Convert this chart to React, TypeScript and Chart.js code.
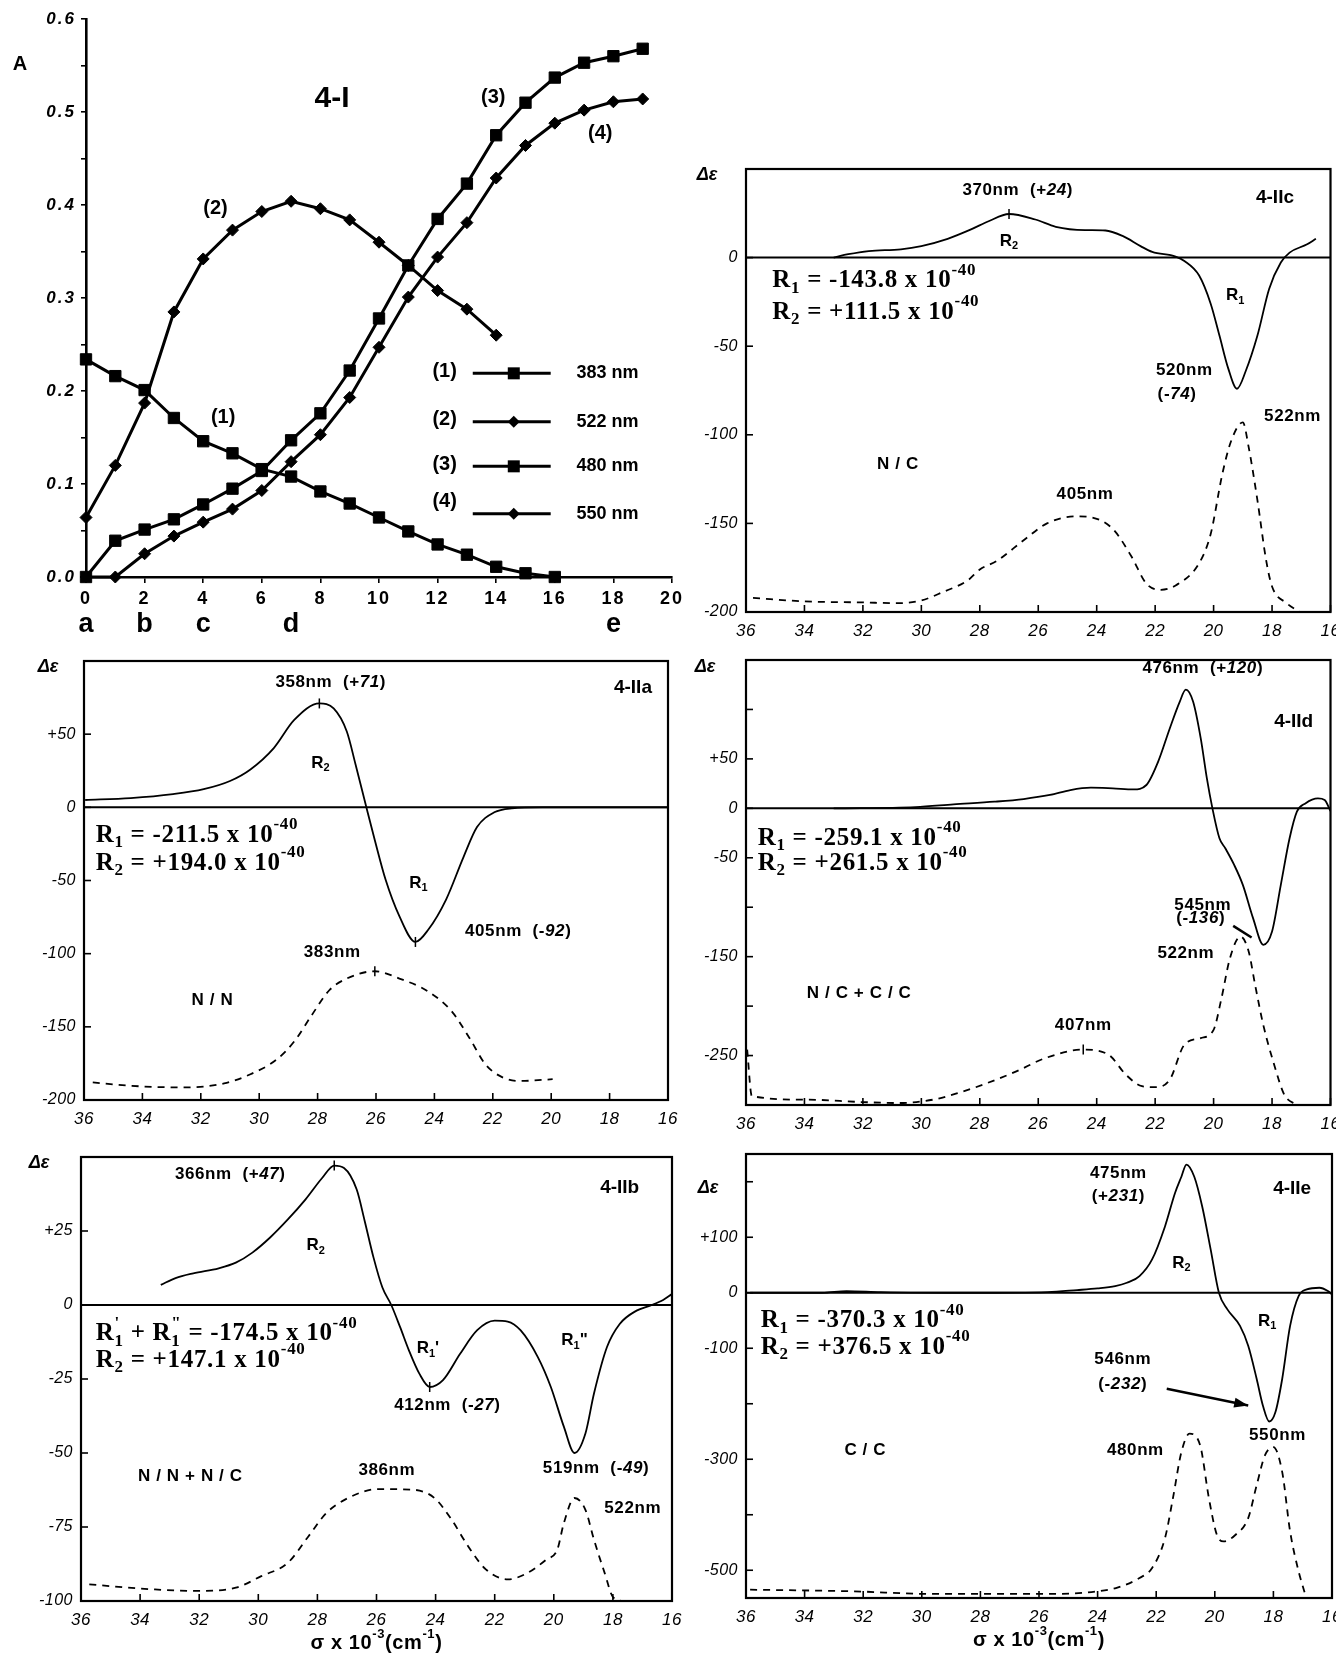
import React, { useEffect, useRef } from 'react';
import { Chart, registerables } from 'chart.js';

Chart.register(...registerables);

/* ================= Panel 4-I : absorbance during titration ================= */
const titrationSteps = [0, 1, 2, 3, 4, 5, 6, 7, 8, 9, 10, 11, 12, 13, 14, 15, 16, 17, 18, 19];
const abs383nm = [0.234, 0.216, 0.201, 0.171, 0.146, 0.133, 0.116, 0.108, 0.092, 0.079, 0.064, 0.049, 0.035, 0.024, 0.011, 0.004, 0.0];
const abs522nm = [0.064, 0.12, 0.187, 0.285, 0.342, 0.373, 0.393, 0.404, 0.396, 0.384, 0.36, 0.335, 0.308, 0.288, 0.26];
const abs480nm = [0.0, 0.039, 0.051, 0.062, 0.078, 0.095, 0.114, 0.147, 0.176, 0.222, 0.278, 0.335, 0.385, 0.423, 0.475, 0.51, 0.537, 0.553, 0.56, 0.568];
const abs550nm = [0.0, 0.0, 0.025, 0.044, 0.059, 0.073, 0.093, 0.124, 0.153, 0.193, 0.247, 0.301, 0.344, 0.381, 0.429, 0.464, 0.488, 0.502, 0.511, 0.514];
const stepTicks = [0, 2, 4, 6, 8, 10, 12, 14, 16, 18, 20];
const absTicks = [0, 0.05, 0.1, 0.15, 0.2, 0.25, 0.3, 0.35, 0.4, 0.45, 0.5, 0.55, 0.6];
const absTickLabels = ['0.0', '', '0.1', '', '0.2', '', '0.3', '', '0.4', '', '0.5', '', '0.6'];
const stepLetters = ['a', 'b', 'c', 'd', 'e'];
const stepLetterAt = [0, 2, 4, 7, 18];
const legendCodes = ['(1)', '(2)', '(3)', '(4)'];
const legendWavelengths = ['383 nm', '522 nm', '480 nm', '550 nm'];

/* ================= CD panels : sigma x 10^-3 (cm-1) ================= */
const sigmaTicks = [16, 18, 20, 22, 24, 26, 28, 30, 32, 34, 36];

// 4-IIc
const cdIIcSigma = [33.0, 32.5, 31.8, 30.7, 30.0, 29.1, 28.3, 27.7, 27.0, 26.1, 25.4, 24.4, 23.7, 23.1, 22.5, 22.1, 21.3, 21.0, 20.5, 20.1, 19.8, 19.5, 19.2, 18.9, 18.5, 18.1, 17.7, 17.4, 16.8, 16.5];
const cdIIcDe = [0, 1.9, 3.7, 4.7, 6.5, 10.6, 15.9, 20.5, 24.6, 21.5, 17.4, 15.5, 15.3, 12.1, 6.5, 3.2, 0.6, -1.9, -10, -26, -44, -62.5, -74, -64, -44, -17.7, -2.8, 2.8, 7.5, 10.6];
const absIIcSigma = [35.76, 34.0, 32.0, 30.8, 30.0, 29.3, 28.4, 28.0, 27.4, 26.5, 25.7, 24.7, 23.9, 23.4, 22.8, 22.3, 21.8, 21.3, 20.5, 20.1, 19.7, 19.4, 19.0, 18.8, 18.5, 18.2, 18.0, 17.5, 17.0];
const absIIcDe = [-192, -194, -194.6, -195, -193.5, -189, -182, -176, -171, -159.5, -150, -146, -148, -154, -169, -184, -187.5, -185, -172.6, -156, -122, -103.5, -93, -107, -137, -171, -185.6, -195, -200.5];
const yTicksIIc = [-200, -150, -100, -50, 0];
const yLabelsIIc = ['-200', '-150', '-100', '-50', '0'];
const peaksIIc = [[27.0, 24.6]];

// 4-IIa
const cdIIaSigma = [35.96, 34.4, 32.95, 31.9, 31.0, 30.3, 29.5, 28.8, 27.94, 27.45, 27.0, 26.7, 26.33, 26.04, 25.67, 25.2, 24.65, 24.2, 23.6, 23.0, 22.54, 21.95, 21.35, 20.3, 16.0];
const cdIIaDe = [5, 6.3, 9, 12.4, 18, 25.9, 40.5, 59.7, 71, 67.6, 51.8, 29.3, 0, -22.5, -49.5, -74.3, -92, -83.3, -63, -33.8, -13.5, -3.4, -0.7, 0, 0];
const absIIaSigma = [35.7, 34.4, 32.65, 31.2, 30.3, 29.4, 28.8, 28.2, 27.6, 27.0, 26.04, 25.2, 24.2, 23.4, 22.8, 22.25, 21.65, 21.06, 19.95];
const absIIaDe = [-188, -190.3, -191.4, -188.7, -182.4, -172.3, -160, -142, -125, -117, -112, -117, -126, -139.6, -157.6, -175.7, -184.7, -187, -185.8];
const yTicksIIa = [-200, -150, -100, -50, 0, 50];
const yLabelsIIa = ['-200', '-150', '-100', '-50', '0', '+50'];
const peaksIIa = [[27.94, 71], [24.65, -92], [26.04, -112]];

// 4-IId
const cdIIdSigma = [33.0, 30.2, 28.9, 27.5, 26.5, 25.6, 24.9, 24.2, 23.45, 22.74, 22.3, 21.9, 21.5, 21.16, 20.95, 20.7, 20.44, 20.23, 20.04, 19.8, 19.6, 19.3, 19.0, 18.65, 18.3, 18.0, 17.7, 17.4, 17.15, 16.86, 16.43, 16.2, 16.0];
const cdIIdDe = [0, 1.3, 4, 6.7, 9.4, 13.5, 18.5, 20.9, 20.2, 19.2, 23.6, 47, 80.8, 107.7, 120, 107.7, 70.7, 30.3, 0, -30.3, -40.4, -57, -77.4, -111, -138, -124.6, -77.4, -30.3, -3.4, 5, 10, 8.4, -2.7];
const absIIdSigma = [35.96, 35.8, 33.9, 32.06, 30.77, 29.6, 28.76, 27.9, 26.75, 25.75, 24.46, 23.6, 23.0, 22.45, 22.0, 21.5, 21.0, 20.44, 20.0, 19.73, 19.44, 19.08, 18.8, 18.58, 18.3, 17.93, 17.58, 17.15];
const absIIdDe = [-244, -291, -294.6, -297, -298, -294.6, -288, -279.5, -266, -252.5, -244, -249, -269.4, -281, -282, -274.4, -239, -232.3, -224, -192, -151.5, -129.6, -144.8, -178.5, -219, -259, -289.6, -300];
const yTicksIId = [-250, -200, -150, -100, -50, 0, 50, 100];
const yLabelsIId = ['-250', '', '-150', '', '-50', '0', '+50', ''];
const peaksIId = [[24.46, -244]];

// 4-IIb
const cdIIbSigma = [33.3, 32.8, 32.2, 31.34, 30.76, 30.2, 29.6, 29.0, 28.4, 27.84, 27.43, 27.1, 26.67, 26.4, 26.1, 25.8, 25.5, 25.2, 24.9, 24.55, 24.2, 23.75, 23.17, 22.6, 22.0, 21.56, 21.12, 20.54, 20.1, 19.66, 19.3, 18.93, 18.64, 18.2, 17.77, 17.2, 16.74, 16.3, 16.0];
const cdIIbDe = [6.8, 9.1, 10.7, 12.4, 14.3, 17.7, 22.8, 28.9, 35.7, 42.9, 47.1, 46.3, 39, 28.4, 16, 5.9, 0, -7.5, -15.4, -23.2, -27.7, -25.4, -16.5, -8.6, -5.3, -5.6, -8.6, -17.6, -27.7, -41.1, -50, -43.4, -29.9, -14.2, -6.4, -1.9, -0.2, 1.7, 3.7];
const absIIbSigma = [35.72, 33.5, 32.07, 30.76, 29.9, 29.0, 28.3, 27.7, 26.96, 25.94, 24.77, 24.04, 23.46, 22.9, 22.3, 21.56, 20.98, 20.25, 19.88, 19.66, 19.3, 18.93, 18.64, 18.28, 17.98, 17.6, 17.2];
const absIIbDe = [-94.4, -96.1, -96.6, -95.5, -91.6, -87.1, -78.1, -70.3, -65.2, -62.2, -62.4, -65.2, -72.5, -81.5, -89.3, -92.7, -91, -86, -82.6, -73.7, -65.2, -69.2, -79.3, -90.5, -98.9, -100, -100.5];
const yTicksIIb = [-100, -75, -50, -25, 0, 25];
const yLabelsIIb = ['-100', '-75', '-50', '-25', '0', '+25'];
const peaksIIb = [[27.43, 47.1], [24.2, -27.7]];

// 4-IIe
const cdIIeSigma = [35.86, 33.4, 32.57, 31.4, 28.3, 25.7, 24.7, 24.0, 23.4, 23.0, 22.57, 22.14, 21.7, 21.36, 21.14, 20.97, 20.7, 20.43, 20.14, 19.86, 19.57, 19.14, 18.86, 18.57, 18.36, 18.14, 17.93, 17.7, 17.43, 17.14, 16.86, 16.43, 16.14, 16.0];
const cdIIeDe = [0, 0, 3, 1.2, 0, 1.2, 4.8, 7.8, 12, 18, 30, 60, 119.5, 179.3, 209, 231, 209, 155.4, 77.7, 0, -30, -59.8, -95.6, -155.4, -203, -232, -215, -155.4, -59.8, -6, 6, 9, 3, -3];
const absIIeSigma = [35.86, 32.3, 29.7, 25.4, 24.0, 23.3, 22.57, 22.14, 21.7, 21.43, 21.14, 20.86, 20.5, 20.2, 19.93, 19.7, 19.29, 18.86, 18.57, 18.29, 18.0, 17.7, 17.43, 17.14, 16.93];
const absIIeDe = [-535, -538, -542.7, -542.7, -538, -530.8, -514, -496, -442, -370.6, -287, -254, -275, -370.6, -436, -448, -436, -406, -346.5, -293, -278, -322.8, -430, -502, -541];
const yTicksIIe = [-500, -400, -300, -200, -100, 0, 100, 200];
const yLabelsIIe = ['-500', '', '-300', '', '-100', '0', '+100', ''];
const peaksIIe: number[][] = [];

/* ================= helpers ================= */
const SANS = '"Liberation Sans", Arial, Helvetica, sans-serif';
const SERIF = '"Liberation Serif", "Times New Roman", serif';

type Seg = { t: string; k?: 'i' | 'sup' | 'sub' | 'ss'; t2?: string };
type Note = {
  segs: Seg[]; x?: number; y?: number; dx?: number; dy?: number; size: number;
  bold?: boolean; serif?: boolean; italic?: boolean; align?: 'left' | 'center' | 'right'; spacing?: number;
};
const S = (t: string): Seg => ({ t });
const I = (t: string): Seg => ({ t, k: 'i' });
const SUP = (t: string): Seg => ({ t, k: 'sup' });
const SUB = (t: string): Seg => ({ t, k: 'sub' });
const SS = (t: string, t2: string): Seg => ({ t, t2, k: 'ss' });

const lab = (x: number, y: number, segs: Seg[], extra: Partial<Note> = {}): Note => ({ x, y, segs, size: 17, bold: true, spacing: 0.6, align: 'center', ...extra });
const pid = (x: number, y: number, t: string): Note => ({ x, y, segs: [S(t)], size: 19, bold: true, align: 'center', spacing: 0 });
const eqn = (x: number, y: number, segs: Seg[]): Note => ({ x, y, segs, size: 25, serif: true, bold: true, align: 'left', spacing: 0.7 });
const eqR = (n: string, v: string): Seg[] => [S('R'), SUB(n), S(' = ' + v + ' x 10'), SUP('-40')];
const rLab = (x: number, y: number, n: string, tail = ''): Note => lab(x, y, tail ? [S('R'), SUB(n), S(tail)] : [S('R'), SUB(n)], { spacing: 0 });

function drawRich(ctx: any, n: Note, px: number, py: number) {
  const fam = n.serif ? SERIF : SANS;
  const wt = n.bold ? 'bold ' : '';
  const small = Math.round(n.size * 0.66);
  const f = (it: boolean, sz: number) => `${it ? 'italic ' : ''}${wt}${sz}px ${fam}`;
  ctx.save();
  ctx.letterSpacing = `${n.spacing ?? 0}px`;
  ctx.fillStyle = '#000';
  ctx.textBaseline = 'middle';
  ctx.textAlign = 'left';
  const ws = n.segs.map((s) => {
    if (s.k === 'sup' || s.k === 'sub') { ctx.font = f(false, small); return ctx.measureText(s.t).width; }
    if (s.k === 'ss') { ctx.font = f(false, small); return Math.max(ctx.measureText(s.t).width, ctx.measureText(s.t2 || '').width); }
    ctx.font = f(!!n.italic || s.k === 'i', n.size);
    return ctx.measureText(s.t).width;
  });
  const total = ws.reduce((a: number, b: number) => a + b, 0);
  let cx = n.align === 'left' ? px : n.align === 'right' ? px - total : px - total / 2;
  n.segs.forEach((s, i) => {
    if (s.k === 'sup') { ctx.font = f(false, small); ctx.fillText(s.t, cx, py - n.size * 0.42); }
    else if (s.k === 'sub') { ctx.font = f(false, small); ctx.fillText(s.t, cx, py + n.size * 0.3); }
    else if (s.k === 'ss') {
      ctx.font = f(false, small);
      ctx.fillText(s.t, cx, py - n.size * 0.42);
      ctx.fillText(s.t2 || '', cx, py + n.size * 0.3);
    } else { ctx.font = f(!!n.italic || s.k === 'i', n.size); ctx.fillText(s.t, cx, py); }
    cx += ws[i];
  });
  ctx.restore();
}

type Seg2 = { x1: number; y1: number; x2: number; y2: number; arrow?: boolean; w?: number };
type LegendRow = { code: string; text: string; y: number; codeY: number; style: 'rect' | 'diamond' };
type Deco = {
  notes: Note[]; box?: boolean; zero?: boolean; inTicks?: boolean; lines?: Seg2[];
  xTitle?: boolean; tickSpacing?: number; legend?: LegendRow[];
};

function drawMarker(ctx: any, style: string, x: number, y: number) {
  ctx.beginPath();
  if (style === 'rect') ctx.rect(x - 6, y - 6, 12, 12);
  else { ctx.moveTo(x, y - 6); ctx.lineTo(x + 6, y); ctx.lineTo(x, y + 6); ctx.lineTo(x - 6, y); ctx.closePath(); }
  ctx.fill();
}

function decoPlugin(d: Deco) {
  return {
    id: 'deco',
    beforeDraw(chart: any) {
      chart.ctx.letterSpacing = `${d.tickSpacing ?? 0}px`;
    },
    afterDraw(chart: any) {
      const { ctx, chartArea: a, scales } = chart;
      const xs = scales.x;
      const ys = scales.y;
      ctx.save();
      ctx.strokeStyle = '#000';
      ctx.fillStyle = '#000';
      const seg = (x1: number, y1: number, x2: number, y2: number) => { ctx.beginPath(); ctx.moveTo(x1, y1); ctx.lineTo(x2, y2); ctx.stroke(); };
      if (d.zero) { ctx.lineWidth = 2; const y0 = ys.getPixelForValue(0); seg(a.left, y0, a.right, y0); }
      if (d.box) { ctx.lineWidth = 2.2; ctx.strokeRect(a.left, a.top, a.right - a.left, a.bottom - a.top); }
      if (d.inTicks) {
        ctx.lineWidth = 1.6;
        xs.ticks.forEach((t: any) => { const x = xs.getPixelForValue(t.value); seg(x, a.bottom, x, a.bottom - 7); });
        ys.ticks.forEach((t: any) => { const y = ys.getPixelForValue(t.value); seg(a.left, y, a.left + 7, y); });
      }
      (d.lines || []).forEach((l) => {
        const x1 = xs.getPixelForValue(l.x1), y1 = ys.getPixelForValue(l.y1);
        const x2 = xs.getPixelForValue(l.x2), y2 = ys.getPixelForValue(l.y2);
        ctx.lineWidth = l.w ?? 2.5;
        seg(x1, y1, x2, y2);
        if (l.arrow) {
          const ang = Math.atan2(y2 - y1, x2 - x1), L = 14, W = 5;
          ctx.beginPath();
          ctx.moveTo(x2, y2);
          ctx.lineTo(x2 - L * Math.cos(ang) + W * Math.sin(ang), y2 - L * Math.sin(ang) - W * Math.cos(ang));
          ctx.lineTo(x2 - L * Math.cos(ang) - W * Math.sin(ang), y2 - L * Math.sin(ang) + W * Math.cos(ang));
          ctx.closePath();
          ctx.fill();
        }
      });
      (d.legend || []).forEach((r) => {
        const y = ys.getPixelForValue(r.y);
        ctx.lineWidth = 3;
        seg(xs.getPixelForValue(13.2), y, xs.getPixelForValue(15.86), y);
        drawMarker(ctx, r.style, xs.getPixelForValue(14.6), y);
        drawRich(ctx, { segs: [S(r.code)], size: 20, bold: true, align: 'center' }, xs.getPixelForValue(12.24), ys.getPixelForValue(r.codeY));
        drawRich(ctx, { segs: [S(r.text)], size: 18, bold: true, align: 'left' }, xs.getPixelForValue(16.74), y);
      });
      d.notes.forEach((n) => {
        const px = n.x !== undefined ? xs.getPixelForValue(n.x) : a.left + (n.dx || 0);
        const py = n.y !== undefined ? ys.getPixelForValue(n.y) : a.top + (n.dy || 0);
        drawRich(ctx, n, px, py);
      });
      if (d.xTitle) {
        drawRich(ctx, { segs: [S('σ x 10'), SUP('-3'), S('(cm'), SUP('-1'), S(')')], size: 20, bold: true, spacing: 0.6, align: 'center' }, (a.left + a.right) / 2, a.bottom + 42);
      }
      ctx.restore();
      ctx.letterSpacing = '0px';
    },
  };
}

const toXY = (xs: number[], ys: number[]) => ys.map((y, i) => ({ x: xs[i], y }));

type Rect = { L: number; R: number; T: number; B: number };
type Pad = { l: number; r: number; t: number; b: number };

function ChartCanvas({ rect, pad, make }: { rect: Rect; pad: Pad; make: () => any }) {
  const ref = useRef<HTMLCanvasElement | null>(null);
  const w = rect.R - rect.L + pad.l + pad.r;
  const h = rect.B - rect.T + pad.t + pad.b;
  useEffect(() => {
    if (!ref.current) return;
    const chart = new Chart(ref.current, make());
    return () => chart.destroy();
  }, []);
  return (
    <canvas
      ref={ref}
      width={w}
      height={h}
      style={{ position: 'absolute', left: rect.L - pad.l, top: rect.T - pad.t, width: w, height: h }}
    />
  );
}

const fixX = (h: number) => (s: any) => { s.height = h; s.paddingLeft = 0; s.paddingRight = 0; s.paddingTop = 0; s.paddingBottom = 0; };
const fixY = (w: number) => (s: any) => { s.width = w; s.paddingLeft = 0; s.paddingRight = 0; s.paddingTop = 0; s.paddingBottom = 0; };

/* ================= Panel 4-I ================= */
const rectI: Rect = { L: 86, R: 672, T: 19, B: 577 };
const padI: Pad = { l: 86, r: 12, t: 19, b: 68 };

function makePanelI() {
  const line = (ys: number[], style: string, r: number) => ({
    data: toXY(titrationSteps, ys),
    borderColor: '#000', backgroundColor: '#000', borderWidth: 3,
    pointStyle: style, pointRadius: r, pointBackgroundColor: '#000', pointBorderColor: '#000', pointBorderWidth: 1,
    tension: 0, clip: false,
  });
  const notes: Note[] = [
    { x: 8.4, y: 0.514, segs: [S('4-I')], size: 30, bold: true, align: 'center' },
    { x: 13.9, y: 0.516, segs: [S('(3)')], size: 20, bold: true, align: 'center' },
    { x: 17.55, y: 0.477, segs: [S('(4)')], size: 20, bold: true, align: 'center' },
    { x: 4.42, y: 0.396, segs: [S('(2)')], size: 20, bold: true, align: 'center' },
    { x: 4.68, y: 0.171, segs: [S('(1)')], size: 20, bold: true, align: 'center' },
    { dx: -66, dy: 45, segs: [S('A')], size: 20, bold: true, align: 'center' },
    ...stepLetters.map((t, i) => ({ x: stepLetterAt[i], dy: 606, segs: [S(t)], size: 27, bold: true, align: 'center' as const })),
  ];
  const legend: LegendRow[] = [
    { code: legendCodes[0], text: legendWavelengths[0], y: 0.219, codeY: 0.221, style: 'rect' },
    { code: legendCodes[1], text: legendWavelengths[1], y: 0.167, codeY: 0.169, style: 'diamond' },
    { code: legendCodes[2], text: legendWavelengths[2], y: 0.119, codeY: 0.121, style: 'rect' },
    { code: legendCodes[3], text: legendWavelengths[3], y: 0.068, codeY: 0.081, style: 'diamond' },
  ];
  return {
    type: 'line',
    data: {
      datasets: [
        line(abs383nm, 'rect', 8),
        line(abs522nm, 'rectRot', 6),
        line(abs480nm, 'rect', 8),
        line(abs550nm, 'rectRot', 6),
      ],
    },
    options: {
      responsive: false, animation: false, devicePixelRatio: 1,
      layout: { padding: { left: 0, top: padI.t, right: padI.r, bottom: 0 } },
      plugins: { legend: { display: false }, tooltip: { enabled: false }, title: { display: false } },
      scales: {
        x: {
          type: 'linear', min: 0, max: 20,
          afterBuildTicks: (s: any) => { s.ticks = stepTicks.map((v) => ({ value: v })); },
          afterFit: fixX(padI.b),
          grid: { drawOnChartArea: false, drawTicks: true, tickLength: 6, color: '#000', lineWidth: 1.6 },
          border: { display: true, color: '#000', width: 2.6 },
          ticks: { color: '#000', font: { family: SANS, size: 18, weight: 'bold' }, padding: 5, maxRotation: 0, autoSkip: false, callback: (v: any) => String(v) },
        },
        y: {
          type: 'linear', min: 0, max: 0.6,
          afterBuildTicks: (s: any) => { s.ticks = absTicks.map((v) => ({ value: v })); },
          afterFit: fixY(padI.l),
          grid: { drawOnChartArea: false, drawTicks: true, tickLength: 5, color: '#000', lineWidth: 1.6 },
          border: { display: true, color: '#000', width: 2.6 },
          ticks: { color: '#000', font: { family: SANS, size: 17, weight: 'bold', style: 'italic' }, padding: 5, autoSkip: false, callback: (_v: any, i: number) => absTickLabels[i] },
        },
      },
    },
    plugins: [decoPlugin({ notes, legend, tickSpacing: 2 })],
  };
}

/* ================= CD panels ================= */
type Spec = {
  rect: Rect; pad: Pad; yMin: number; yMax: number; yTicks: number[]; yLabels: string[];
  cdS: number[]; cdV: number[]; absS: number[]; absV: number[]; peaks: number[][];
  notes: Note[]; lines?: Seg2[]; delta: { dx: number; dy: number }; xTitle?: boolean;
};

function makeSpectrum(p: Spec) {
  const notes: Note[] = [...p.notes, { dx: p.delta.dx, dy: p.delta.dy, segs: [S('Δε')], size: 18, italic: true, bold: true, align: 'center' }];
  return {
    type: 'line',
    data: {
      datasets: [
        { data: toXY(p.cdS, p.cdV), borderColor: '#000', borderWidth: 1.8, pointRadius: 0, cubicInterpolationMode: 'monotone', fill: false },
        { data: toXY(p.absS, p.absV), borderColor: '#000', borderWidth: 1.8, borderDash: [7, 6], pointRadius: 0, cubicInterpolationMode: 'monotone', fill: false },
        { data: p.peaks.map((q) => ({ x: q[0], y: q[1] })), showLine: false, pointStyle: 'line', pointRotation: 90, pointRadius: 5, borderColor: '#000', pointBorderColor: '#000', pointBorderWidth: 1.5 },
      ],
    },
    options: {
      responsive: false, animation: false, devicePixelRatio: 1,
      layout: { padding: { left: 0, top: p.pad.t, right: p.pad.r, bottom: 0 } },
      plugins: { legend: { display: false }, tooltip: { enabled: false }, title: { display: false } },
      scales: {
        x: {
          type: 'linear', reverse: true, min: 16, max: 36,
          afterBuildTicks: (s: any) => { s.ticks = sigmaTicks.map((v) => ({ value: v })); },
          afterFit: fixX(p.pad.b),
          grid: { display: false, drawTicks: false },
          border: { display: false },
          ticks: { color: '#000', font: { family: SANS, size: 17, style: 'italic' }, padding: 9, maxRotation: 0, autoSkip: false, callback: (v: any) => String(v) },
        },
        y: {
          type: 'linear', min: p.yMin, max: p.yMax,
          afterBuildTicks: (s: any) => { s.ticks = p.yTicks.map((v) => ({ value: v })); },
          afterFit: fixY(p.pad.l),
          grid: { display: false, drawTicks: false },
          border: { display: false },
          ticks: { color: '#000', font: { family: SANS, size: 16, style: 'italic' }, padding: 8, autoSkip: false, callback: (_v: any, i: number) => p.yLabels[i] },
        },
      },
    },
    plugins: [decoPlugin({ notes, box: true, zero: true, inTicks: true, lines: p.lines, xTitle: p.xTitle, tickSpacing: 0.5 })],
  };
}

const padTopR: Pad = { l: 62, r: 6, t: 12, b: 40 };
const padBottomR: Pad = { l: 62, r: 6, t: 12, b: 62 };
const padTopL: Pad = { l: 62, r: 16, t: 12, b: 40 };
const padBottomL: Pad = { l: 62, r: 16, t: 12, b: 62 };

const specIIc: Spec = {
  rect: { L: 746, R: 1331, T: 169, B: 612 }, pad: padTopR, yMin: -200, yMax: 50,
  yTicks: yTicksIIc, yLabels: yLabelsIIc, cdS: cdIIcSigma, cdV: cdIIcDe, absS: absIIcSigma, absV: absIIcDe, peaks: peaksIIc,
  delta: { dx: -39, dy: 6 },
  notes: [
    lab(26.7, 38, [S('370nm  (+'), I('24'), S(')')]),
    pid(17.9, 33.6, '4-IIc'),
    rLab(27.0, 9.3, '2'),
    eqn(35.1, -13, eqR('1', '-143.8')),
    eqn(35.1, -30.8, eqR('2', '+111.5')),
    rLab(19.26, -21.5, '1'),
    lab(21.0, -63.4, [S('520nm')]),
    lab(21.25, -77, [S('(-'), I('74'), S(')')]),
    lab(17.3, -89.5, [S('522nm')]),
    lab(30.8, -116.6, [S('N / C')]),
    lab(24.4, -133.4, [S('405nm')]),
  ],
};

const specIIa: Spec = {
  rect: { L: 84, R: 668, T: 661, B: 1100 }, pad: padTopL, yMin: -200, yMax: 100,
  yTicks: yTicksIIa, yLabels: yLabelsIIa, cdS: cdIIaSigma, cdV: cdIIaDe, absS: absIIaSigma, absV: absIIaDe, peaks: peaksIIa,
  delta: { dx: -36, dy: 6 },
  notes: [
    lab(27.55, 85.6, [S('358nm  (+'), I('71'), S(')')]),
    pid(17.2, 82, '4-IIa'),
    rLab(27.9, 30.4, '2'),
    eqn(35.6, -19, eqR('1', '-211.5')),
    eqn(35.6, -38.3, eqR('2', '+194.0')),
    rLab(24.55, -51.8, '1'),
    lab(21.13, -84.5, [S('405nm  (-'), I('92'), S(')')]),
    lab(27.5, -99, [S('383nm')]),
    lab(31.6, -131.8, [S('N / N')]),
  ],
};

const specIId: Spec = {
  rect: { L: 746, R: 1331, T: 660, B: 1105 }, pad: padTopR, yMin: -300, yMax: 150,
  yTicks: yTicksIId, yLabels: yLabelsIId, cdS: cdIIdSigma, cdV: cdIIdDe, absS: absIIdSigma, absV: absIIdDe, peaks: peaksIId,
  delta: { dx: -41, dy: 7 },
  lines: [{ x1: 19.33, y1: -118.9, x2: 18.7, y2: -130.6, w: 2.5 }],
  notes: [
    lab(20.37, 141.4, [S('476nm  (+'), I('120'), S(')')]),
    pid(17.26, 87.5, '4-IId'),
    eqn(35.6, -30.3, eqR('1', '-259.1')),
    eqn(35.6, -55.6, eqR('2', '+261.5')),
    lab(20.37, -97.6, [S('545nm')]),
    lab(20.44, -111, [S('(-'), I('136'), S(')')]),
    lab(20.95, -146.5, [S('522nm')]),
    lab(32.13, -187, [S('N / C + C / C')]),
    lab(24.46, -219, [S('407nm')]),
  ],
};

const specIIb: Spec = {
  rect: { L: 81, R: 672, T: 1157, B: 1601 }, pad: padBottomL, yMin: -100, yMax: 50,
  yTicks: yTicksIIb, yLabels: yLabelsIIb, cdS: cdIIbSigma, cdV: cdIIbDe, absS: absIIbSigma, absV: absIIbDe, peaks: peaksIIb,
  delta: { dx: -42, dy: 6 }, xTitle: true,
  notes: [
    lab(30.95, 44, [S('366nm  (+'), I('47'), S(')')]),
    pid(17.77, 39.6, '4-IIb'),
    rLab(28.06, 20, '2'),
    eqn(35.5, -9.75, [S('R'), SS("'", '1'), S(' + R'), SS('"', '1'), S(' = -174.5 x 10'), SUP('-40')]),
    eqn(35.5, -18.7, eqR('2', '+147.1')),
    rLab(24.26, -14.8, '1', "'"),
    rLab(19.3, -12, '1', '"'),
    lab(23.6, -33.9, [S('412nm  (-'), I('27'), S(')')]),
    lab(18.57, -55.2, [S('519nm  (-'), I('49'), S(')')]),
    lab(32.3, -58, [S('N / N + N / C')]),
    lab(25.65, -55.7, [S('386nm')]),
    lab(17.33, -68.6, [S('522nm')]),
  ],
};

const specIIe: Spec = {
  rect: { L: 746, R: 1332, T: 1154, B: 1598 }, pad: padBottomR, yMin: -550, yMax: 250,
  yTicks: yTicksIIe, yLabels: yLabelsIIe, cdS: cdIIeSigma, cdV: cdIIeDe, absS: absIIeSigma, absV: absIIeDe, peaks: peaksIIe,
  delta: { dx: -38, dy: 34 }, xTitle: true,
  lines: [{ x1: 21.64, y1: -173, x2: 18.86, y2: -203, arrow: true, w: 2.5 }],
  notes: [
    lab(23.29, 215, [S('475nm')]),
    lab(23.29, 173, [S('(+'), I('231'), S(')')]),
    pid(17.36, 188, '4-IIe'),
    rLab(21.14, 53.8, '2'),
    eqn(35.5, -50.8, eqR('1', '-370.3')),
    eqn(35.5, -98.6, eqR('2', '+376.5')),
    rLab(18.21, -50.8, '1'),
    lab(23.14, -119.5, [S('546nm')]),
    lab(23.14, -164.4, [S('(-'), I('232'), S(')')]),
    lab(22.71, -284, [S('480nm')]),
    lab(17.86, -257, [S('550nm')]),
    lab(31.93, -284, [S('C / C')]),
  ],
};

const spectra = [specIIc, specIIa, specIId, specIIb, specIIe];

export default function App() {
  return (
    <div style={{ position: 'absolute', left: 0, top: 0, width: 1336, height: 1654, background: '#fff', overflow: 'hidden' }}>
      <ChartCanvas rect={rectI} pad={padI} make={makePanelI} />
      {spectra.map((p, i) => (
        <ChartCanvas key={i} rect={p.rect} pad={p.pad} make={() => makeSpectrum(p)} />
      ))}
    </div>
  );
}
